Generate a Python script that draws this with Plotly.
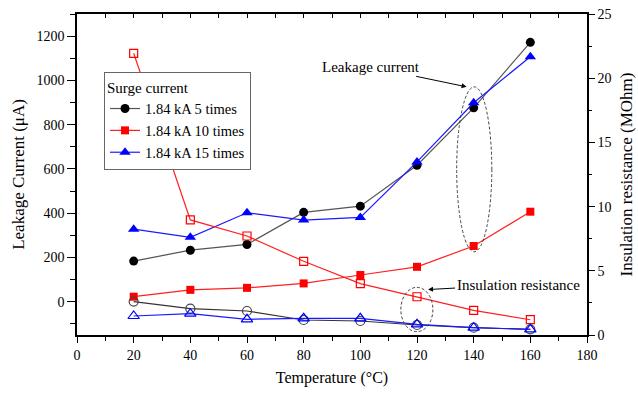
import plotly.graph_objects as go

# ---- data ----
temps = [20, 40, 60, 80, 100, 120, 140, 160]
series_names = ["1.84 kA 5 times", "1.84 kA 10 times", "1.84 kA 15 times"]
leak_5 = [184, 233, 259, 404, 432, 617, 876, 1172]
leak_10 = [23, 54, 63, 83, 121, 158, 252, 407]
leak_15 = [328, 291, 402, 369, 381, 632, 899, 1107]
res_5 = [2.6, 2.05, 1.87, 1.17, 1.09, 0.78, 0.57, 0.44]
res_10 = [21.94, 8.96, 7.71, 5.74, 4.0, 2.98, 1.92, 1.19]
res_15 = [1.48, 1.66, 1.22, 1.3, 1.3, 0.83, 0.57, 0.44]

x_ticks = list(range(0, 181, 20))
left_ticks = list(range(0, 1201, 200))
right_ticks = [0, 5, 10, 15, 20, 25]

FONT = "Liberation Serif, Times New Roman, serif"

line_cols = ["#555555", "#ff2020", "#1a1aff"]
mark_cols = ["#000000", "#ff0000", "#0000ff"]
open_line_cols = ["#333333", "#ff2020", "#1a1aff"]
symbols = ["circle", "square", "triangle-up"]
sizes = [9, 8, 10]

fig = go.Figure()

# insulation resistance (open markers, right axis)
for vals, lc, mc, sym, sz in zip([res_5, res_10, res_15], open_line_cols, mark_cols, symbols, sizes):
    fig.add_trace(go.Scatter(
        x=temps, y=vals, mode="lines+markers", yaxis="y2", showlegend=False,
        line=dict(color=lc, width=1.2),
        marker=dict(symbol=sym + "-open", size=sz, color=mc if mc != "#000000" else "#444444",
                    line=dict(width=1.2)),
        hoverinfo="skip"))

# leakage current (filled markers, left axis)
for name, vals, lc, mc, sym, sz in zip(series_names, [leak_5, leak_10, leak_15],
                                       line_cols, mark_cols, symbols, sizes):
    fig.add_trace(go.Scatter(
        x=temps, y=vals, mode="lines+markers", name=name,
        line=dict(color=lc, width=1.2),
        marker=dict(symbol=sym, size=sz, color=mc)))

# empty trace on top overlay x axis (for inside ticks)
fig.add_trace(go.Scatter(x=[], y=[], xaxis="x2", yaxis="y", showlegend=False))

axis_font = dict(family=FONT, size=14, color="black")

fig.update_layout(
    width=638, height=394,
    margin=dict(l=77, r=51, t=14, b=59),
    paper_bgcolor="white", plot_bgcolor="white",
    font=dict(family=FONT, size=14, color="black"),
    xaxis=dict(
        range=[0, 180], tickmode="array", tickvals=x_ticks, automargin=False,
        ticks="outside", ticklen=6, tickwidth=1.2, tickcolor="black",
        minor=dict(dtick=10, tick0=0, ticks="outside", ticklen=4, tickwidth=1.2, tickcolor="black"),
        showline=True, linecolor="black", linewidth=1.5,
        showgrid=False, zeroline=False, tickfont=axis_font,
        title=dict(text="Temperature (°C)", font=dict(family=FONT, size=16), standoff=10),
    ),
    xaxis2=dict(
        range=[0, 180], overlaying="x", side="top", anchor="y", automargin=False,
        tickmode="linear", tick0=0, dtick=10, ticks="inside", ticklen=4, tickwidth=1.2,
        tickcolor="black", showticklabels=False,
        showline=True, linecolor="black", linewidth=1.5, showgrid=False, zeroline=False,
    ),
    yaxis=dict(
        range=[-150, 1300], tickmode="array", tickvals=left_ticks, automargin=False,
        ticks="outside", ticklen=8, tickwidth=1.2, tickcolor="black",
        minor=dict(dtick=100, tick0=0, ticks="outside", ticklen=5, tickwidth=1.2, tickcolor="black"),
        showline=True, linecolor="black", linewidth=1.5,
        showgrid=False, zeroline=False, tickfont=axis_font,
        title=dict(text="Leakage Current (μA)", font=dict(family=FONT, size=17), standoff=8),
    ),
    yaxis2=dict(
        range=[0, 25], overlaying="y", side="right", anchor="x", automargin=False,
        tickmode="array", tickvals=right_ticks,
        ticks="outside", ticklen=6, tickwidth=1.2, tickcolor="black",
        minor=dict(dtick=2.5, tick0=0, ticks="outside", ticklen=3.5, tickwidth=1.2, tickcolor="black"),
        showline=True, linecolor="black", linewidth=1.5,
        showgrid=False, zeroline=False, tickfont=axis_font,
        title=dict(text="Insulation resistance (MOhm)", font=dict(family=FONT, size=17), standoff=10),
    ),
    legend=dict(
        x=0.053, y=0.819, xanchor="left", yanchor="top",
        bgcolor="white", bordercolor="#666666", borderwidth=1,
        font=dict(family=FONT, size=14.5), tracegroupgap=0,
        title=dict(text="Surge current", font=dict(family=FONT, size=15)),
        itemwidth=30,
    ),
    shapes=[
        dict(type="circle", xref="x", yref="y", x0=134.0, x1=146.4, y0=226, y1=971,
             line=dict(color="#444444", width=1, dash="3px,2px")),
        dict(type="circle", xref="x", yref="y2", x0=114.3, x1=125.6, y0=0.26, y1=3.71,
             line=dict(color="#444444", width=1, dash="3px,2px")),
    ],
    annotations=[
        dict(x=137.5, y=971, xref="x", yref="y", text="Leakage current", showarrow=True,
             ax=-96, ay=-20, arrowhead=2, arrowsize=1, arrowwidth=1, arrowcolor="black",
             font=dict(family=FONT, size=15)),
        dict(x=123.9, y=3.54, xref="x", yref="y2", text="Insulation resistance", showarrow=True,
             ax=90, ay=-5, arrowhead=2, arrowsize=1, arrowwidth=1, arrowcolor="black",
             font=dict(family=FONT, size=15)),
    ],
)

fig.write_html(
    "out.html",
    config={"displayModeBar": False},
    post_script="document.body.style.margin='0';document.body.style.overflow='hidden';",
)
